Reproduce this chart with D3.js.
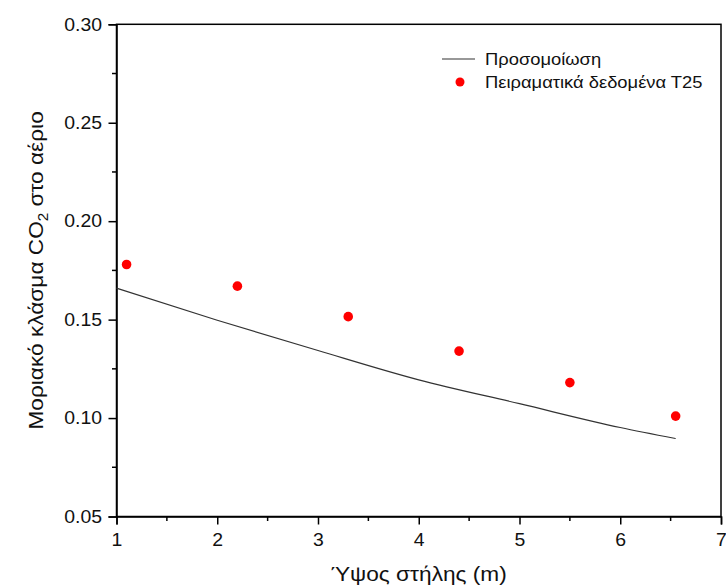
<!DOCTYPE html>
<html>
<head>
<meta charset="utf-8">
<script src="https://cdn.jsdelivr.net/npm/d3@7"></script>
<style>
  html, body { margin: 0; padding: 0; background: #ffffff; }
  svg { display: block; }
  text { font-family: "Liberation Sans", Arial, sans-serif; fill: #111; }
</style>
</head>
<body>
<script>
// ---- data ----
const simX = [1, 2, 3, 4, 5, 6, 6.55];
const simY = [0.166, 0.1497, 0.1343, 0.1194, 0.1073, 0.0952, 0.0896];
const expX = [1.1, 2.2, 3.3, 4.4, 5.5, 6.55];
const expY = [0.178, 0.167, 0.1515, 0.134, 0.118, 0.101];
const xTicks = [1, 2, 3, 4, 5, 6, 7];
const yTicks = [0.05, 0.10, 0.15, 0.20, 0.25, 0.30];
const xMinor = [1.5, 2.5, 3.5, 4.5, 5.5, 6.5];
const yMinor = [0.075, 0.125, 0.175, 0.225, 0.275];
const legendLabels = ["Προσομοίωση", "Πειραματικά δεδομένα Τ25"];

const W = 726, H = 588;
const m = { left: 116.5, right: 5, top: 24.3, bottom: 71.5 };
const SX = 1.08; // horizontal stretch of the glyphs in the reference

const svg = d3.select("body").append("svg").attr("width", W).attr("height", H);

const x = d3.scaleLinear().domain([1, 7]).range([m.left, W - m.right]);
const y = d3.scaleLinear().domain([0.05, 0.30]).range([H - m.bottom, m.top]);

function stretch(sel) {
  sel.each(function () {
    const t = d3.select(this);
    const ax = +t.attr("x") || 0;
    t.attr("transform", `translate(${ax},0) scale(${SX},1) translate(${-ax},0)`);
  });
}

// frame (top and right)
svg.append("rect")
  .attr("x", x(1)).attr("y", y(0.30))
  .attr("width", x(7) - x(1)).attr("height", y(0.05) - y(0.30))
  .attr("fill", "none").attr("stroke", "#000").attr("stroke-width", 1.5);

// x axis
const xAxis = svg.append("g").attr("transform", `translate(0,${y(0.05)})`)
  .call(d3.axisBottom(x).tickValues(xTicks).tickFormat(d3.format("d")).tickSize(8).tickPadding(9));
xAxis.append("g").selectAll("line").data(xMinor).join("line")
  .attr("x1", d => x(d)).attr("x2", d => x(d)).attr("y1", 0).attr("y2", 4.5)
  .attr("stroke", "#000").attr("stroke-width", 1.5);

// y axis
const yAxis = svg.append("g").attr("transform", `translate(${x(1)},0)`)
  .call(d3.axisLeft(y).tickValues(yTicks).tickFormat(d3.format(".2f")).tickSize(8).tickPadding(6.5));
yAxis.append("g").selectAll("line").data(yMinor).join("line")
  .attr("y1", d => y(d)).attr("y2", d => y(d)).attr("x1", 0).attr("x2", -4.5)
  .attr("stroke", "#000").attr("stroke-width", 1.5);

[xAxis, yAxis].forEach(g => {
  g.select(".domain").attr("stroke", "#000").attr("stroke-width", 1.5);
  g.selectAll(".tick line").attr("stroke", "#000").attr("stroke-width", 1.5);
  g.selectAll(".tick text").attr("font-size", 18)
    .attr("font-family", "Liberation Sans, Arial, sans-serif").attr("fill", "#111")
    .call(stretch);
});

// simulation line
const simData = simX.map((d, i) => [d, simY[i]]);
svg.append("path").datum(simData)
  .attr("fill", "none").attr("stroke", "#333").attr("stroke-width", 1.2)
  .attr("d", d3.line().x(d => x(d[0])).y(d => y(d[1])).curve(d3.curveMonotoneX));

// experimental points
const expData = expX.map((d, i) => [d, expY[i]]);
svg.append("g").selectAll("circle").data(expData).join("circle")
  .attr("cx", d => x(d[0])).attr("cy", d => y(d[1])).attr("r", 4.8).attr("fill", "#ff0000");

// legend
const lg = svg.append("g");
lg.append("line").attr("x1", 442).attr("x2", 475).attr("y1", 59).attr("y2", 59)
  .attr("stroke", "#333").attr("stroke-width", 1.2);
lg.append("text").attr("x", 485).attr("y", 65.5).attr("font-size", 17).text(legendLabels[0]).call(stretch);
lg.append("circle").attr("cx", 460).attr("cy", 82).attr("r", 4.5).attr("fill", "#ff0000");
lg.append("text").attr("x", 485).attr("y", 88.5).attr("font-size", 17).text(legendLabels[1]).call(stretch);

// axis titles
svg.append("text").attr("x", (x(1) + x(7)) / 2).attr("y", 581)
  .attr("text-anchor", "middle").attr("font-size", 21).text("Ύψος στήλης (m)").call(stretch);

const yt = svg.append("text")
  .attr("transform", `translate(43,${(y(0.05) + y(0.30)) / 2}) rotate(-90) scale(${SX},1)`)
  .attr("text-anchor", "middle").attr("font-size", 21);
yt.append("tspan").text("Μοριακό κλάσμα CO");
yt.append("tspan").attr("font-size", 14).attr("dy", 5).text("2");
yt.append("tspan").attr("dy", -5).text(" στο αέριο");
</script>
</body>
</html>
